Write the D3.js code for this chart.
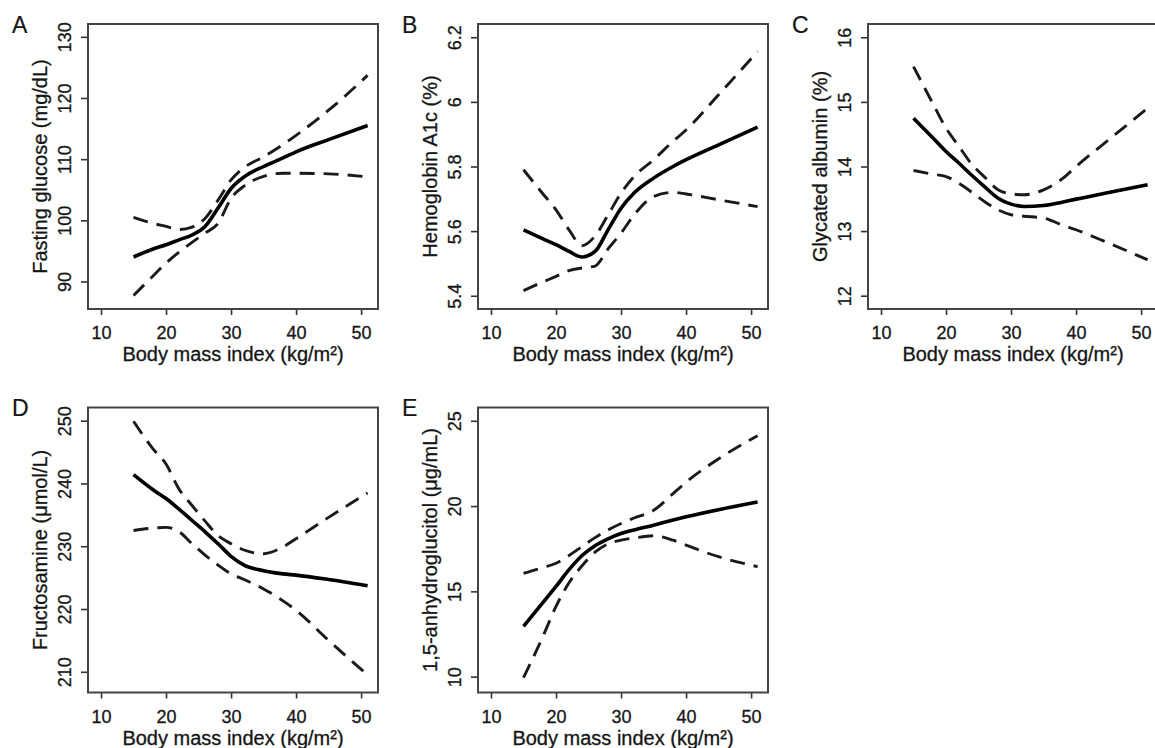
<!DOCTYPE html>
<html>
<head>
<meta charset="utf-8">
<title>BMI and glycemic markers</title>
<script src="https://cdn.jsdelivr.net/npm/d3@7"></script>
<style>
  body { margin: 0; background: #fff; }
  svg text { font-family: "Liberation Sans", Arial, Helvetica, sans-serif; fill: #151515; stroke: #151515; stroke-width: 0.3px; }
</style>
</head>
<body>
<div id="chart"></div>
<script>
// BMI grid the curves were read at
const bmi = [15, 18, 20, 22, 24, 26, 28, 30, 32, 35, 38, 40, 45, 51]
const xTicks = [10, 20, 30, 40, 50]

// A - fasting glucose
const glucoseFit   = [94.0, 95.3, 96.0, 96.8, 97.6, 99.0, 102.0, 105.2, 107.1, 108.8, 110.2, 111.2, 113.2, 115.5]
const glucoseUpper = [100.5, 99.5, 99.0, 98.5, 98.9, 100.3, 103.3, 106.6, 108.6, 110.4, 112.4, 113.9, 118.0, 123.7]
const glucoseLower = [87.7, 90.9, 93.0, 94.8, 96.4, 97.9, 99.5, 103.6, 105.6, 107.2, 107.7, 107.7, 107.6, 107.1]
const glucoseTicks = [90, 100, 110, 120, 130]

// B - hemoglobin A1c
const hba1cFit   = [5.604, 5.576, 5.558, 5.537, 5.520, 5.537, 5.604, 5.671, 5.718, 5.764, 5.800, 5.821, 5.867, 5.922]
const hba1cUpper = [5.790, 5.715, 5.666, 5.604, 5.555, 5.585, 5.650, 5.718, 5.769, 5.821, 5.878, 5.913, 6.022, 6.156]
const hba1cLower = [5.416, 5.443, 5.460, 5.478, 5.486, 5.492, 5.545, 5.594, 5.650, 5.707, 5.720, 5.715, 5.697, 5.676]
const hba1cTicks = [5.4, 5.6, 5.8, 6, 6.2]

// C - glycated albumin
const albuminFit   = [14.747, 14.44, 14.232, 14.05, 13.86, 13.68, 13.51, 13.418, 13.381, 13.397, 13.45, 13.495, 13.598, 13.716]
const albuminUpper = [15.546, 14.97, 14.593, 14.31, 14.03, 13.83, 13.639, 13.577, 13.562, 13.639, 13.82, 14.0, 14.412, 14.902]
const albuminLower = [13.938, 13.88, 13.845, 13.74, 13.60, 13.45, 13.33, 13.253, 13.23, 13.201, 13.09, 13.021, 12.814, 12.557]
const albuminTicks = [12, 13, 14, 15, 16]

// D - fructosamine
const fructFit   = [241.4, 239.0, 237.6, 235.9, 234.1, 232.3, 230.4, 228.4, 227.0, 226.1, 225.6, 225.4, 224.7, 223.7]
const fructUpper = [249.9, 245.5, 243.1, 239.1, 236.5, 234.0, 231.7, 230.4, 229.4, 228.8, 229.9, 231.2, 234.6, 238.5]
const fructLower = [232.5, 232.9, 233.0, 232.3, 230.4, 228.6, 227.0, 225.6, 224.7, 223.2, 221.3, 219.8, 215.0, 209.5]
const fructTicks = [210, 220, 230, 240, 250]

// E - 1,5-anhydroglucitol
const agFit   = [12.95, 14.35, 15.29, 16.27, 17.1, 17.68, 18.08, 18.39, 18.6, 18.88, 19.18, 19.37, 19.79, 20.24]
const agUpper = [16.06, 16.40, 16.65, 17.1, 17.63, 18.15, 18.6, 18.98, 19.3, 19.75, 20.73, 21.4, 22.77, 24.13]
const agLower = [9.94, 12.37, 14.12, 15.5, 16.5, 17.3, 17.78, 18.0, 18.13, 18.26, 18.0, 17.71, 17.03, 16.45]
const agTicks = [10, 15, 20, 25]

const panelLetters = ["A", "B", "C", "D", "E"]
const yTitles = ["Fasting glucose (mg/dL)", "Hemoglobin A1c (%)", "Glycated albumin (%)",
                 "Fructosamine (\u03bcmol/L)", "1,5-anhydroglucitol (\u03bcg/mL)"]
const xTitle = "Body mass index (kg/m\u00b2)"

const panels = [
    { fit: glucoseFit, upper: glucoseUpper, lower: glucoseLower, ticks: glucoseTicks, dom: [85.5, 132.1] },
    { fit: hba1cFit, upper: hba1cUpper, lower: hba1cLower, ticks: hba1cTicks, dom: [5.359, 6.241] },
    { fit: albuminFit, upper: albuminUpper, lower: albuminLower, ticks: albuminTicks, dom: [11.794, 16.206] },
    { fit: fructFit, upper: fructUpper, lower: fructLower, ticks: fructTicks, dom: [206.7, 252.1] },
    { fit: agFit, upper: agUpper, lower: agLower, ticks: agTicks, dom: [9.07, 25.78] }
]

const W = 1155, H = 748
const boxW = 290, boxH = 285

const svg = d3.select("#chart").append("svg")
    .attr("width", W)
    .attr("height", H)

panels.forEach((p, i) => {
    const col = i % 3
    const row = Math.floor(i / 3)
    const left = 88 + col * 390
    const top = row === 0 ? 24 : 407.5

    const g = svg.append("g").attr("transform", `translate(${left},${top})`)

    const x = d3.scaleLinear().domain([8, 52.6]).range([0, boxW])
    const y = d3.scaleLinear().domain(p.dom).range([boxH, 0])

    // y axis
    const yAxis = g.append("g")
        .call(d3.axisLeft(y).tickValues(p.ticks).tickSize(7).tickSizeOuter(0).tickFormat(d3.format("")))
    yAxis.select(".domain").remove()
    yAxis.selectAll("line").attr("stroke", "#333").attr("stroke-width", 1.6)
    yAxis.selectAll("text")
        .attr("transform", "rotate(-90)")
        .attr("x", 0)
        .attr("y", -17)
        .attr("dy", null)
        .attr("text-anchor", "middle")
        .style("font-size", "18px")
        .attr("fill", "#151515")

    // x axis
    const xAxis = g.append("g")
        .attr("transform", `translate(0,${boxH})`)
        .call(d3.axisBottom(x).tickValues(xTicks).tickSize(6).tickSizeOuter(0))
    xAxis.select(".domain").remove()
    xAxis.selectAll("line").attr("stroke", "#333").attr("stroke-width", 1.6)
    xAxis.selectAll("text")
        .attr("y", 30)
        .attr("dy", null)
        .style("font-size", "18px")
        .attr("fill", "#151515")

    // box
    g.append("rect")
        .attr("width", boxW)
        .attr("height", boxH)
        .attr("fill", "none")
        .attr("stroke", "#444")
        .attr("stroke-width", 2)

    // titles
    g.append("text")
        .attr("x", boxW / 2)
        .attr("y", boxH + 52)
        .attr("text-anchor", "middle")
        .style("font-size", "20px")
        .text(xTitle)

    g.append("text")
        .attr("transform", `translate(-41,${boxH / 2}) rotate(-90)`)
        .attr("text-anchor", "middle")
        .style("font-size", "20px")
        .text(yTitles[i])

    g.append("text")
        .attr("x", -76)
        .attr("y", 8.7)
        .style("font-size", "23px")
        .style("stroke-width", "0.2px")
        .text(panelLetters[i])

    // curves
    const line = d3.line()
        .x((d, j) => x(bmi[j]))
        .y(d => y(d))
        .curve(d3.curveMonotoneX)

    ;[p.upper, p.lower].forEach(s => {
        g.append("path")
            .attr("d", line(s))
            .attr("fill", "none")
            .attr("stroke", "#1a1a1a")
            .attr("stroke-width", 2.9)
            .attr("stroke-dasharray", "15,9")
    })

    g.append("path")
        .attr("d", line(p.fit))
        .attr("fill", "none")
        .attr("stroke", "#000")
        .attr("stroke-width", 3.6)
})
</script>
</body>
</html>
